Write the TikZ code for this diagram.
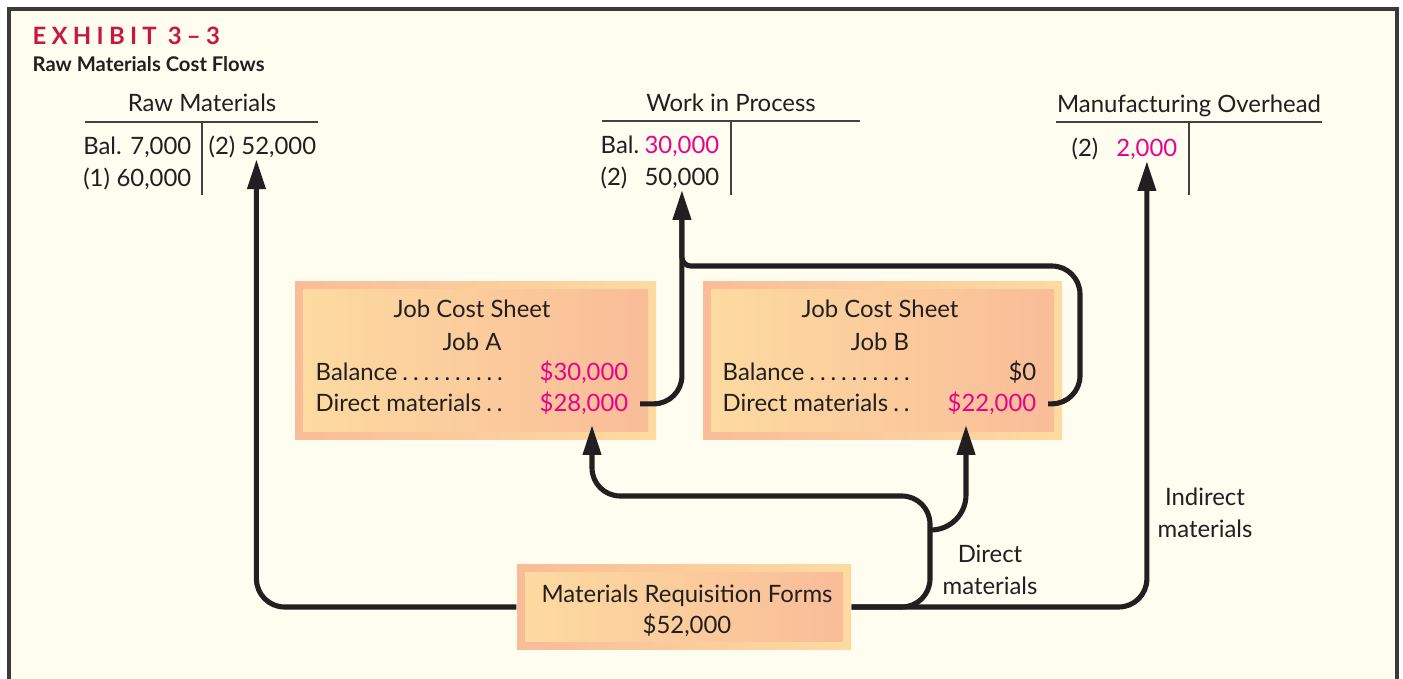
\documentclass[tikz,border=0pt]{standalone}
\usepackage{fontspec}
\setmainfont{Lato}
\usepackage{xcolor}
\usepackage{tikz}
\usetikzlibrary{arrows.meta,positioning,calc}

\definecolor{cream}{RGB}{255,253,240}
\definecolor{framegray}{RGB}{58,58,58}
\definecolor{ink}{RGB}{35,31,32}
\definecolor{crimson}{RGB}{200,22,70}
\definecolor{pinkval}{RGB}{236,0,140}
\definecolor{salmon}{RGB}{249,188,152}
\definecolor{peach}{RGB}{253,219,160}

\newcommand{\bodyfont}{\fontsize{6.8}{9}\selectfont}

\tikzset{
  every node/.style={text=ink, inner sep=0pt, font=\bodyfont},
  sheet/.style 2 args={left color=salmon, right color=peach,
    minimum width=#1, minimum height=#2,
    path picture={\shade[left color=peach, right color=salmon]
      ($(path picture bounding box.south west)+(0.08,0.08)$) rectangle
      ($(path picture bounding box.north east)-(0.08,0.08)$);}},
  taccount/.style={draw=ink!85, line width=0.55pt},
  pipe/.style={draw=ink, line width=1.45pt, rounded corners=8pt},
  flow/.style={pipe, -{Triangle[length=8.5pt,width=5pt]}},
}

\begin{document}
\begin{tikzpicture}
  \useasboundingbox (0,0) rectangle (14.03,6.78);
  \clip (0,0) rectangle (14.03,6.78);
  \fill[white] (0,0) rectangle (14.03,6.78);
  \draw[framegray, line width=0.9pt, fill=cream] (0.09,-0.2) rectangle (13.97,6.69);

  \node[anchor=base west, text=crimson,
        font=\bfseries\fontsize{6.8}{8}\selectfont\addfontfeature{LetterSpace=22}]
        (exhibit) at (0.32,6.33) {EXHIBIT 3–3};
  \node[anchor=base west, font=\bfseries\fontsize{5.75}{7}\selectfont]
        (caption) at (0.32,6.06) {Raw Materials Cost Flows};

  % T-accounts
  \node[anchor=base] (rmTitle) at (2.02,5.66) {Raw Materials};
  \draw[taccount] (0.85,5.56) -- (3.18,5.56);
  \draw[taccount] (2.02,5.56) -- (2.02,4.83);
  \node[anchor=base east] (rmBal) at (1.92,5.23) {\makebox[1.08cm][l]{Bal.\hfill 7,000}};
  \node[anchor=base east] (rmDr) at (1.92,4.91) {\makebox[1.08cm][l]{(1)\hfill 60,000}};
  \node[anchor=base west] (rmCr) at (2.08,5.23) {(2) 52,000};

  \node[anchor=base] (wipTitle) at (7.31,5.66) {Work in Process};
  \draw[taccount] (6.02,5.57) -- (8.60,5.57);
  \draw[taccount] (7.31,5.57) -- (7.31,4.83);
  \node[anchor=base west] (wipBal) at (6.00,5.24) {Bal.};
  \node[anchor=base east, text=pinkval] (wipBalV) at (7.20,5.24) {30,000};
  \node[anchor=base west] (wipDr) at (6.00,4.92) {(2)};
  \node[anchor=base east] (wipDrV) at (7.20,4.92) {50,000};

  \node[anchor=base] (mohTitle) at (11.89,5.65) {Manufacturing Overhead};
  \draw[taccount] (10.56,5.56) -- (13.22,5.56);
  \draw[taccount] (11.89,5.56) -- (11.89,4.83);
  \node[anchor=base west] (mohDr) at (10.71,5.21) {(2)};
  \node[anchor=base east, text=pinkval] (mohDrV) at (11.78,5.21) {2,000};

  % job cost sheets
  \node[sheet={3.61cm}{1.57cm}] (jobA) at (4.755,3.175) {};
  \node[anchor=base] (jaHead) at (4.72,3.60) {Job Cost Sheet};
  \node[anchor=base] (jaName) at (4.72,3.28) {Job A};
  \node[anchor=base west] (jaBal) at (3.15,2.98) {\makebox[1.92cm][l]{Balance\dotfill}};
  \node[anchor=base east, text=pinkval] (jaBalV) at (6.29,2.98) {\$30,000};
  \node[anchor=base west] (jaDM) at (3.15,2.66) {\makebox[1.92cm][l]{Direct materials\dotfill}};
  \node[anchor=base east, text=pinkval] (jaDMv) at (6.29,2.66) {\$28,000};

  \node[sheet={3.59cm}{1.57cm}] (jobB) at (8.825,3.175) {};
  \node[anchor=base] (jbHead) at (8.80,3.60) {Job Cost Sheet};
  \node[anchor=base] (jbName) at (8.80,3.28) {Job B};
  \node[anchor=base west] (jbBal) at (7.22,2.98) {\makebox[1.92cm][l]{Balance\dotfill}};
  \node[anchor=base east] (jbBalV) at (10.37,2.98) {\$0};
  \node[anchor=base west] (jbDM) at (7.22,2.66) {\makebox[1.92cm][l]{Direct materials\dotfill}};
  \node[anchor=base east, text=pinkval] (jbDMv) at (10.37,2.66) {\$22,000};

  \node[sheet={3.34cm}{0.85cm}] (mrf) at (6.84,0.71) {};
  \node[anchor=base] (mrfHead) at (6.87,0.76) {Materials Requisition Forms};
  \node[anchor=base] (mrfTotal) at (6.87,0.45) {\$52,000};

  \node[align=center] (dmLbl) at (9.90,1.08) {Direct\\materials};
  \node[align=center] (imLbl) at (12.05,1.65) {Indirect\\materials};

  % flows
  \coordinate (split) at (9.30,1.48);
  \draw[flow] (mrf.west) -| ([xshift=-0.06cm]rmCr.south);
  \draw[flow] (mrf.east) -| (mohDrV.south);
  \draw[flow] (mrf.east) -- (9.30,0.71) -- (9.30,1.82)
        -| ([shift={(0.08,-0.09)}]jaDMv.south);
  \draw[flow, rounded corners=10pt] (split) -| ([shift={(-0.26,-0.09)}]jbDMv.south);

  \draw[flow] ([xshift=0.11cm]jaDMv.east) -| (wipDrV.south);
  \draw[pipe] ([xshift=0.11cm]jbDMv.east) -| (10.80,4.12)
        [rounded corners=2.5pt] -| ([yshift=-0.3cm]wipDrV.south);
\end{tikzpicture}
\end{document}
